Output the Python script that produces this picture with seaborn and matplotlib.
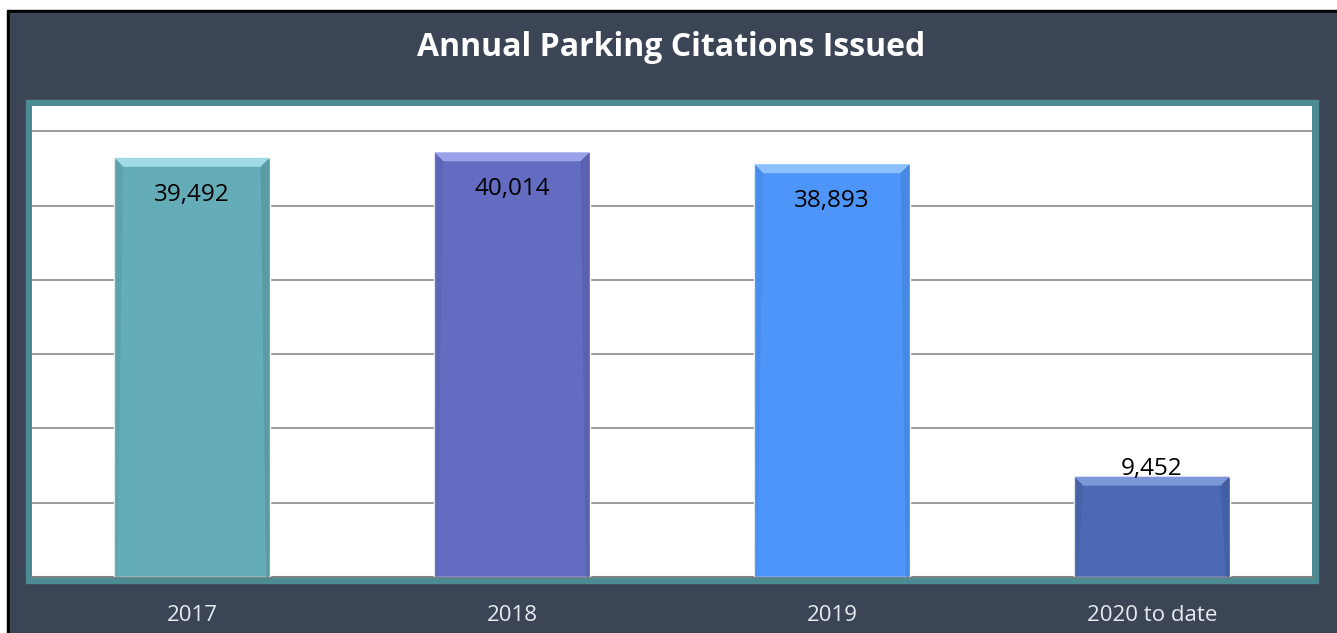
import matplotlib.pyplot as plt
import seaborn as sns
import pandas as pd
from matplotlib.patches import Rectangle, Polygon

years = ['2017', '2018', '2019', '2020 to date']
citations = [39492, 40014, 38893, 9452]
bar_colors = ['#64adb8', '#646cc1', '#4d95f8', '#4b69b4']
bevel_light = ['#9fdbe3', '#9aa2ea', '#8cc0ff', '#7d98d8']
bevel_dark = ['#4f8d96', '#5058a0', '#3f7ed4', '#3d5896']

sns.set_style('white')
plt.rcParams['font.family'] = ['Open Sans', 'DejaVu Sans']

W, H = 1337, 633
fig = plt.figure(figsize=(W / 100, H / 100), dpi=100)
fig.patch.set_facecolor('white')

# outer frame: black edge, slate panel, teal plot border
fig.patches.append(Rectangle((7 / W, 0), 1, (H - 10) / H, transform=fig.transFigure,
                             color='black', zorder=-3))
fig.patches.append(Rectangle((10 / W, 0), 1, (H - 13) / H, transform=fig.transFigure,
                             color='#3b4556', zorder=-2))
fig.patches.append(Rectangle((26 / W, (H - 583) / H), (1318 - 26) / W, (583 - 100) / H,
                             transform=fig.transFigure, color='#4d8b93', zorder=-1))

ax = fig.add_axes([32 / W, (H - 577) / H, 1280 / W, (577 - 106) / H])
df = pd.DataFrame({'year': years, 'citations': citations})
sns.barplot(data=df, x='year', y='citations', hue='year', palette=bar_colors,
            width=0.485, saturation=1, legend=False, ax=ax, zorder=3)

ymax = 44375
ax.set_ylim(0, ymax)
ax.set_xlim(-0.5, 3.5)
ax.set_yticks(range(7000, 42001, 7000))
ax.set_yticklabels([])
ax.yaxis.grid(True, color='#8a8a8a', linewidth=1.2)
ax.tick_params(axis='y', length=0)
ax.tick_params(axis='x', length=0, pad=20, labelsize=16, labelcolor='#e6ebf0')
ax.set_xlabel('')
ax.set_ylabel('')
for side in ['top', 'left', 'right']:
    ax.spines[side].set_visible(False)
ax.spines['bottom'].set_color('#808080')
ax.spines['bottom'].set_linewidth(1.5)
ax.set_facecolor('white')

# bevel effect on each bar
dy = 9 * ymax / 471
dx = 9 / 320
for i, p in enumerate(ax.patches[:len(years)]):
    x0, w, top = p.get_x(), p.get_width(), p.get_height()
    x1 = x0 + w
    ax.add_patch(Polygon([(x0, top), (x1, top), (x1 - dx, top - dy), (x0 + dx, top - dy)],
                         closed=True, color=bevel_light[i], zorder=4, lw=0))
    ax.add_patch(Polygon([(x1, top), (x1, 0), (x1 - dx * 0.4, 0), (x1 - dx, top - dy)],
                         closed=True, color=bevel_dark[i], zorder=4, lw=0, alpha=0.5))
    ax.add_patch(Polygon([(x0, top), (x0, 0), (x0 + dx * 0.3, 0), (x0 + dx, top - dy)],
                         closed=True, color=bevel_dark[i], zorder=4, lw=0, alpha=0.3))
    cx = x0 + w / 2
    label = f'{citations[i]:,}'
    if citations[i] > 20000:
        ax.annotate(label, (cx, top), xytext=(0, -18), textcoords='offset points',
                    ha='center', va='top', fontsize=17.5, color='black', zorder=5)
    else:
        ax.annotate(label, (cx, top), xytext=(0, 1), textcoords='offset points',
                    ha='center', va='baseline', fontsize=17.5, color='black', zorder=5)

fig.text(671 / W, (H - 48) / H, 'Annual Parking Citations Issued', ha='center', va='center',
         color='white', fontsize=23, fontweight='bold')

fig.savefig('out.png', dpi=100)
